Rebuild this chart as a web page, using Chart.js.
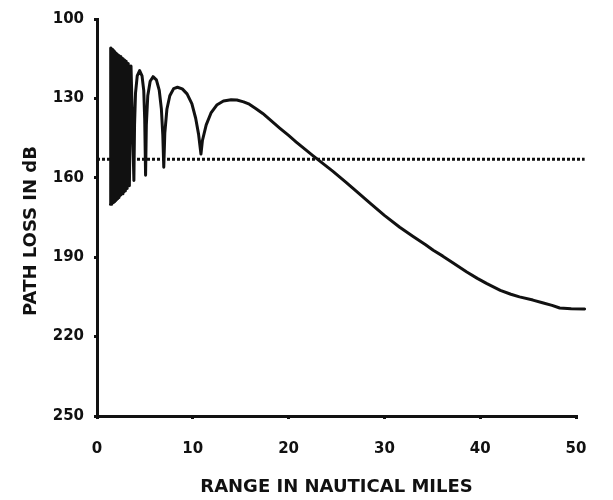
<!DOCTYPE html>
<html>
<head>
<meta charset="utf-8">
<script src="https://cdn.jsdelivr.net/npm/chart.js@4/dist/chart.umd.min.js"></script>
<style>
  html, body { margin: 0; padding: 0; background: #ffffff; }
  #wrap { width: 613px; height: 500px; position: relative; }
</style>
</head>
<body>
<div id="wrap"><canvas id="c" width="613" height="500"></canvas></div>
<script>
// Range (nautical miles) and path loss (dB)
const rangeNm = [
  1.40, 1.43, 1.47, 1.51, 1.55, 1.59, 1.63, 1.67, 1.71, 1.75, 1.80, 1.85, 1.90, 1.95, 2.00, 2.05,
  2.11, 2.17, 2.23, 2.29, 2.35, 2.42, 2.49, 2.56, 2.63, 2.71, 2.79, 2.87, 2.96, 3.05, 3.15, 3.26,
  3.38, 3.55,
  3.85, 3.92, 4.02, 4.20, 4.45, 4.70, 4.88, 4.98,
  5.07, 5.15, 5.30, 5.55, 5.85, 6.20, 6.50, 6.72, 6.87,
  6.97, 7.08, 7.30, 7.60, 8.00, 8.40, 8.90, 9.40, 9.90, 10.30, 10.60,
  10.85, 11.00, 11.40, 11.90, 12.50, 13.20, 14.00, 14.60, 15.30, 15.90, 16.60, 17.30, 18.20,
  19.10, 20.00, 20.80, 21.70, 22.50, 23.20, 24.60, 26.00, 27.30, 28.50, 30.00, 31.60, 33.00,
  34.30, 35.10, 36.10, 37.10, 38.60, 39.70, 40.70, 42.10, 43.20, 44.10, 45.50, 46.50, 47.50,
  48.30, 49.50, 50.90
];
const pathLossDb = [
  170, 111, 170, 111.2, 169.8, 111.5, 169.5, 111.8, 169.2, 112, 169, 112.4, 168.6, 112.8, 168.2, 113.1,
  167.8, 113.5, 167.4, 113.8, 167, 114.2, 166.5, 114.6, 166, 115, 165.5, 115.5, 165, 116, 164, 116.8,
  163, 117.8,
  161, 140, 128, 121.5, 119.5, 121.5, 127, 138,
  159, 140, 129, 123.5, 121.8, 123, 127, 134, 144,
  156, 143, 134, 129, 126.3, 125.8, 126.4, 128.3, 132, 137.5, 143.5,
  151, 146, 140, 135.5, 132.5, 131, 130.5, 130.6, 131.3, 132.2, 133.9, 135.7, 138.5,
  141.3, 144, 146.5, 149.2, 151.5, 153.5, 157.5, 161.7, 165.8, 169.6, 174.2, 178.7, 182.2,
  185.3, 187.4, 189.6, 192, 195.6, 198, 200, 202.5, 204, 205, 206.2, 207.2, 208.2,
  209.2, 209.5, 209.6
];
// Dotted reference level
const thresholdRange = [0, 50.9];
const thresholdDb = [153, 153];
// Axis ticks
const xTickValues = [0, 10, 20, 30, 40, 50];
const yTickValues = [100, 130, 160, 190, 220, 250];
const yTitle = 'PATH LOSS IN dB';
const xTitle = 'RANGE IN NAUTICAL MILES';

const curve = rangeNm.map((x, i) => ({ x: x, y: pathLossDb[i] }));
const level = thresholdRange.map((x, i) => ({ x: x, y: thresholdDb[i] }));

const ink = '#111111';
const fam = "'DejaVu Sans', 'Liberation Sans', sans-serif";
const tickFont = { family: fam, size: 15, weight: 'bold' };
const titleFont = { family: fam, size: 18, weight: 'bold' };

// Vertical y-axis title, placed beside the drawn span of the axis
const yTitlePlugin = {
  id: 'yTitlePlugin',
  afterDraw(chart) {
    const ctx = chart.ctx;
    ctx.save();
    ctx.fillStyle = ink;
    ctx.font = 'bold 18px ' + fam;
    ctx.textAlign = 'center';
    ctx.textBaseline = 'middle';
    ctx.translate(31, 231);
    ctx.rotate(-Math.PI / 2);
    ctx.fillText(yTitle, 0, 0);
    ctx.restore();
  }
};

new Chart(document.getElementById('c'), {
  type: 'line',
  data: {
    datasets: [
      {
        data: curve,
        borderColor: ink,
        borderWidth: 3,
        pointRadius: 0,
        tension: 0,
        fill: false,
        clip: false,
        borderJoinStyle: 'round',
        borderCapStyle: 'round'
      },
      {
        data: level,
        borderColor: ink,
        borderWidth: 3,
        borderDash: [3, 2],
        pointRadius: 0,
        tension: 0,
        fill: false,
        clip: false
      }
    ]
  },
  plugins: [yTitlePlugin],
  options: {
    responsive: false,
    animation: false,
    events: [],
    layout: { padding: { top: 18, right: 37, bottom: 0, left: 0 } },
    plugins: { legend: { display: false }, tooltip: { enabled: false } },
    scales: {
      x: {
        type: 'linear',
        min: 0,
        max: 50,
        afterBuildTicks: s => { s.ticks = xTickValues.map(v => ({ value: v })); },
        afterFit: s => { s.height = 84; },
        border: { display: true, color: ink, width: 3 },
        grid: { display: true, drawOnChartArea: false, drawTicks: true, tickLength: 3, color: ink, lineWidth: 3 },
        ticks: { color: ink, font: tickFont, padding: 21, maxRotation: 0 },
        title: { display: true, text: xTitle, color: ink, font: titleFont, padding: { top: 0, bottom: 2 } }
      },
      y: {
        type: 'linear',
        reverse: true,
        min: 100,
        max: 250,
        afterBuildTicks: s => { s.ticks = yTickValues.map(v => ({ value: v })); },
        afterFit: s => { s.width = 97; },
        border: { display: true, color: ink, width: 3 },
        grid: { display: true, drawOnChartArea: false, drawTicks: true, tickLength: 3, color: ink, lineWidth: 3 },
        ticks: { color: ink, font: tickFont, padding: 10 },
        title: { display: false }
      }
    }
  }
});
</script>
</body>
</html>
